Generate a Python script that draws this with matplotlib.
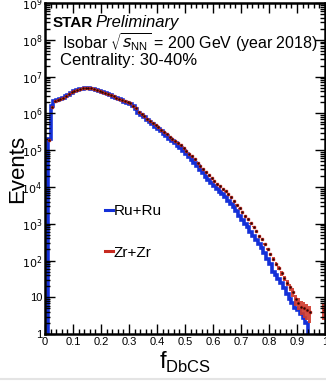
import numpy as np
import matplotlib.pyplot as plt
from matplotlib.ticker import FixedLocator, FuncFormatter, MultipleLocator

plt.rcParams['font.family'] = ['Liberation Sans', 'DejaVu Sans']

# bin edges: 100 bins of width 0.01 in f_DbCS
bin_edges = np.linspace(0.0, 1.0, 101)

# log10(Events) per bin (None = empty bin)
ru_log = [None, 5.30, 6.20, 6.33, 6.36, 6.39, 6.42, 6.46, 6.51, 6.56,
          6.60, 6.63, 6.66, 6.67, 6.68, 6.68, 6.67, 6.66, 6.63, 6.60,
          6.58, 6.55, 6.52, 6.49, 6.45, 6.42, 6.39, 6.36, 6.32, 6.29,
          6.26, 6.19, 6.12, 6.02, 5.96, 5.90, 5.83, 5.76, 5.70, 5.64,
          5.58, 5.52, 5.45, 5.38, 5.31, 5.25, 5.19, 5.12, 5.06, 4.99,
          4.91, 4.82, 4.74, 4.65, 4.56, 4.46, 4.37, 4.28, 4.19, 4.10,
          4.03, 3.95, 3.87, 3.80, 3.72, 3.63, 3.55, 3.45, 3.35, 3.22,
          3.10, 3.00, 2.90, 2.78, 2.66, 2.55, 2.45, 2.35, 2.20, 2.05,
          1.90, 1.70, 1.60, 1.50, 1.40, 1.25, 1.10, 0.95, 0.85, 0.70,
          0.65, 0.55, 0.45, 0.30, None, None, None, None, None, None]

zr_log = [None, 5.27, 6.17, 6.34, 6.37, 6.40, 6.43, 6.47, 6.52, 6.57,
          6.61, 6.64, 6.67, 6.68, 6.69, 6.69, 6.68, 6.67, 6.64, 6.61,
          6.59, 6.56, 6.53, 6.50, 6.46, 6.43, 6.40, 6.37, 6.33, 6.30,
          6.27, 6.21, 6.14, 6.05, 5.99, 5.93, 5.86, 5.80, 5.74, 5.68,
          5.62, 5.56, 5.50, 5.43, 5.37, 5.31, 5.25, 5.19, 5.13, 5.06,
          4.99, 4.91, 4.83, 4.75, 4.66, 4.57, 4.49, 4.40, 4.32, 4.24,
          4.17, 4.09, 4.02, 3.95, 3.88, 3.80, 3.72, 3.62, 3.52, 3.42,
          3.32, 3.22, 3.12, 3.02, 2.92, 2.80, 2.68, 2.58, 2.45, 2.32,
          2.18, 2.05, 1.92, 1.80, 1.65, 1.52, 1.40, 1.28, 1.15, 0.95,
          0.85, 0.75, 0.70, 0.65, 0.60, None, None, None, None, 0.65]

centers = 0.5 * (bin_edges[:-1] + bin_edges[1:])
ru = np.array([0.0 if v is None else 10 ** v for v in ru_log])
zr = np.array([np.nan if v is None else 10 ** v for v in zr_log])

fig = plt.figure(figsize=(3.26, 3.81), dpi=100)
ax = fig.add_axes([0.138, 0.123, 0.859, 0.869])

# Ru+Ru histogram as thick step line
ru_plot = np.where(ru > 0, ru, 0.3)
ax.stairs(ru_plot, bin_edges, color='#1430d8', linewidth=2.6, baseline=None)

# Zr+Zr as markers with statistical error boxes
zr_err = np.sqrt(zr)
for c, v, e in zip(centers, zr, zr_err):
    if np.isnan(v):
        continue
    lo = max(v - e, 0.5)
    ax.add_patch(plt.Rectangle((c - 0.005, lo), 0.01, v + e - lo,
                               color='#d03a2c', alpha=0.9, linewidth=0))
ax.plot(centers, zr, 's', color='#c62a20', markersize=2.0,
        markeredgecolor='#c62a20', linestyle='none')
ax.plot(centers, zr, '.', color='black', markersize=1.0, linestyle='none')

ax.set_yscale('log')
ax.set_xlim(0, 1)
ax.set_ylim(1, 1e9)

ax.xaxis.set_major_locator(MultipleLocator(0.1))
ax.xaxis.set_minor_locator(MultipleLocator(0.02))
ax.xaxis.set_major_formatter(FuncFormatter(lambda v, p: '0' if v == 0 else ('1' if abs(v - 1) < 1e-9 else f'{v:.1f}')))

def ylab(v, pos):
    e = int(round(np.log10(v)))
    if e == 0:
        return '1'
    if e == 1:
        return '10'
    return f'$10^{{{e}}}$'

ax.yaxis.set_major_locator(FixedLocator([10.0 ** k for k in range(10)]))
ax.yaxis.set_major_formatter(FuncFormatter(ylab))
ax.tick_params(which='both', direction='in', top=True, right=True, labelsize=8, width=1.0)
ax.tick_params(which='major', length=7, pad=2)
ax.tick_params(which='minor', length=3.5)
for s in ax.spines.values():
    s.set_linewidth(1.8)

ax.set_ylabel('Events', fontsize=16)
ax.yaxis.set_label_coords(-0.06, 0.5)
ax.set_xlabel(r'f$_{\mathregular{DbCS}}$', fontsize=17, labelpad=2)

ax.text(0.028, 0.94, 'STAR', transform=ax.transAxes, fontsize=11, fontweight='bold', va='center')
ax.text(0.18, 0.942, 'Preliminary', transform=ax.transAxes, fontsize=12, style='italic', va='center')
ax.text(0.06, 0.88, r'Isobar $\sqrt{s_{\mathregular{NN}}}$ = 200 GeV (year 2018)',
        transform=ax.transAxes, fontsize=11.5, va='center')
ax.text(0.054, 0.825, 'Centrality: 30-40%', transform=ax.transAxes, fontsize=12, va='center')

# legend drawn as short line segments with labels
ax.plot([0.214, 0.243], [0.375, 0.375], transform=ax.transAxes, color='#1430d8', linewidth=2.2, clip_on=False)
ax.text(0.245, 0.372, 'Ru+Ru', transform=ax.transAxes, fontsize=11, va='center')
ax.plot([0.214, 0.243], [0.25, 0.25], transform=ax.transAxes, color='#c62a20', linewidth=2.2, clip_on=False)
ax.text(0.245, 0.245, 'Zr+Zr', transform=ax.transAxes, fontsize=11, va='center')

# light separator strip at the bottom of the image
fig.add_artist(plt.Line2D([0, 1], [0.006, 0.006], transform=fig.transFigure, color='#e4e4e4', linewidth=1.5))

fig.savefig('out.png', dpi=100)
